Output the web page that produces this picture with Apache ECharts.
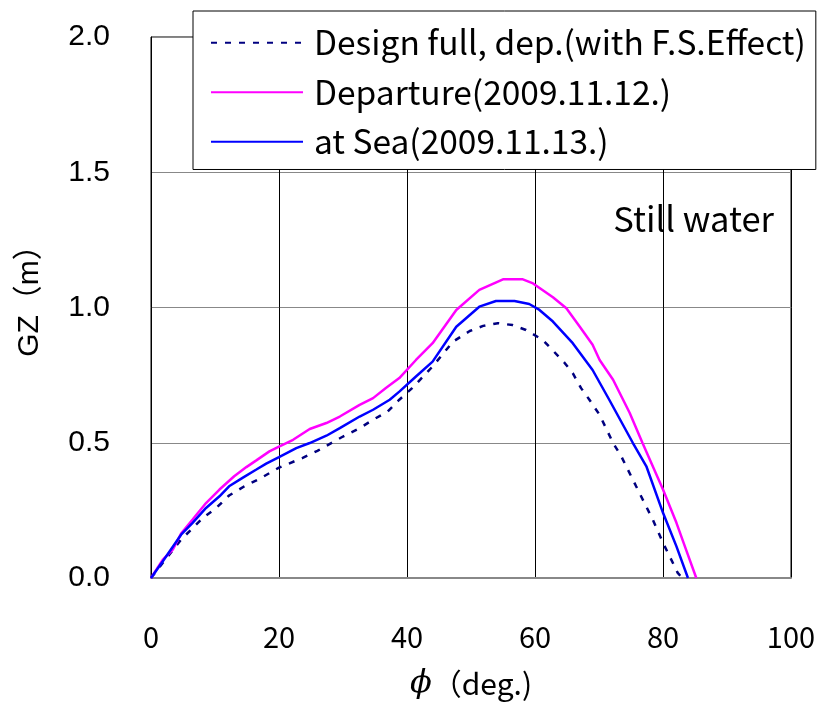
<!DOCTYPE html>
<html>
<head>
<meta charset="utf-8">
<script src="https://cdn.jsdelivr.net/npm/echarts@6/dist/echarts.min.js"></script>
<style>html,body{margin:0;padding:0;background:#fff}#c{width:824px;height:705px}</style>
</head>
<body>
<div id="c"></div>
<script>
var xTicks = [0, 20, 40, 60, 80, 100];
var yTicks = [0.0, 0.5, 1.0, 1.5, 2.0];

var designPhi = [0, 1.85, 4.7, 8.1, 10.2, 12.2, 14.6, 16.9, 20.0, 23.7, 26.0, 30.0, 32.6, 34.7, 37.0, 38.8, 40.8, 44.0, 47.2, 49.8, 51.9, 54.2, 56.5, 58.6, 61.2, 62.8, 64.6, 65.9, 67.2, 68.5, 70.1, 72.2, 73.5, 75.8, 78.4, 80.0, 82.3, 83.0];
var designGZ  = [0, 0.056, 0.142, 0.222, 0.259, 0.305, 0.339, 0.366, 0.408, 0.444, 0.470, 0.523, 0.554, 0.585, 0.616, 0.659, 0.702, 0.782, 0.874, 0.913, 0.932, 0.942, 0.935, 0.917, 0.880, 0.841, 0.796, 0.757, 0.702, 0.659, 0.603, 0.499, 0.449, 0.339, 0.216, 0.130, 0.019, 0];

var depPhi = [0, 1.85, 3.4, 4.7, 6.5, 8.6, 10.7, 13.0, 14.9, 16.4, 18.5, 20.0, 22.2, 24.8, 27.4, 29.5, 32.6, 34.7, 36.7, 38.8, 41.4, 44.0, 47.7, 51.3, 55.0, 58.1, 59.7, 62.8, 64.9, 67.0, 69.0, 70.1, 72.2, 74.8, 76.8, 80.0, 82.1, 83.6, 85.2];
var depGZ  = [0, 0.068, 0.105, 0.164, 0.216, 0.277, 0.327, 0.376, 0.410, 0.434, 0.468, 0.486, 0.511, 0.551, 0.573, 0.597, 0.640, 0.665, 0.702, 0.739, 0.806, 0.868, 0.991, 1.065, 1.104, 1.104, 1.089, 1.038, 0.997, 0.929, 0.862, 0.806, 0.733, 0.610, 0.499, 0.327, 0.204, 0.105, 0];

var seaPhi = [0, 1.85, 4.7, 6.5, 8.6, 10.7, 12.2, 14.3, 16.4, 18.0, 20.0, 22.7, 24.8, 27.4, 29.5, 32.6, 34.7, 37.3, 38.8, 41.4, 44.0, 47.7, 51.3, 53.9, 56.8, 59.1, 60.7, 62.8, 65.9, 69.0, 71.6, 75.3, 77.4, 80.0, 82.1, 83.9];
var seaGZ  = [0, 0.062, 0.160, 0.204, 0.259, 0.302, 0.339, 0.370, 0.400, 0.423, 0.447, 0.480, 0.499, 0.526, 0.554, 0.597, 0.622, 0.659, 0.689, 0.745, 0.800, 0.929, 1.003, 1.024, 1.024, 1.013, 0.991, 0.948, 0.868, 0.769, 0.659, 0.499, 0.413, 0.241, 0.117, 0];

var seriesNames = ['Design full, dep.(with F.S.Effect)', 'Departure(2009.11.12.)', 'at Sea(2009.11.13.)'];

function pairs(xs, ys) { return xs.map(function (x, i) { return [x, ys[i]]; }); }

var chart = echarts.init(document.getElementById('c'), null, { renderer: 'canvas' });
var jp = "'Noto Sans CJK JP', sans-serif";
var lib = "'Liberation Sans', 'Noto Sans CJK JP', sans-serif";
chart.setOption({
  animation: false,
  backgroundColor: '#fff',
  grid: { left: 151, right: 33, top: 37, bottom: 127, show: true, borderColor: '#000', borderWidth: 1, backgroundColor: 'transparent' },
  title: {
    text: 'Still water', right: 50, top: 200,
    textStyle: { fontFamily: jp, fontSize: 34.5, lineHeight: 38, fontWeight: 'normal', color: '#000' },
    padding: 0
  },
  legend: {
    orient: 'vertical', left: 193, top: 11,
    backgroundColor: '#fff', borderColor: '#000', borderWidth: 1,
    padding: [15, 10, 11, 17],
    itemGap: 16, itemWidth: 92, itemHeight: 12,
    itemStyle: { opacity: 0 },
    textStyle: { fontFamily: jp, fontSize: 33.5, lineHeight: 33, color: '#000', padding: [0, 0, 0, 6] },
    data: seriesNames
  },
  xAxis: {
    type: 'value', min: 0, max: 100, interval: 20,
    name: '{p|ϕ}（deg.)', nameLocation: 'middle', nameGap: 90,
    nameTextStyle: { fontFamily: jp, fontSize: 30, color: '#000',
      rich: { p: { fontFamily: "'DejaVu Serif', serif", fontStyle: 'italic', fontSize: 32, color: '#000' } } },
    axisLine: { show: true, lineStyle: { color: '#888', width: 2 } },
    axisTick: { show: false },
    axisLabel: { margin: 44, fontFamily: jp, fontSize: 29, color: '#000',
      formatter: function (v) { return xTicks.indexOf(v) >= 0 ? String(v) : ''; } },
    splitLine: { show: true, lineStyle: { color: '#000', width: 1 } }
  },
  yAxis: {
    type: 'value', min: 0, max: 2, interval: 0.5,
    name: 'GZ（m）', nameLocation: 'middle', nameGap: 106,
    nameTextStyle: { fontFamily: lib, fontSize: 30, color: '#000', padding: [0, 0, 0, 28] },
    axisLine: { show: true, lineStyle: { color: '#000', width: 1 } },
    axisTick: { show: false },
    axisLabel: { margin: 41, fontFamily: "'Liberation Sans', Arial, sans-serif", fontSize: 30, color: '#000',
      formatter: function (v) { var i = yTicks.indexOf(v); return i >= 0 ? yTicks[i].toFixed(1) : ''; } },
    splitLine: { show: true, lineStyle: { color: '#888', width: 1 } }
  },
  series: [
    { name: seriesNames[0], type: 'line', data: pairs(designPhi, designGZ), showSymbol: false, symbol: 'none', smooth: false,
      lineStyle: { color: '#000080', width: 2.5, type: [6, 8] }, itemStyle: { color: '#000080' }, z: 3 },
    { name: seriesNames[1], type: 'line', data: pairs(depPhi, depGZ), showSymbol: false, symbol: 'none',
      lineStyle: { color: '#ff00ff', width: 2.5 }, itemStyle: { color: '#ff00ff' }, z: 4 },
    { name: seriesNames[2], type: 'line', data: pairs(seaPhi, seaGZ), showSymbol: false, symbol: 'none',
      lineStyle: { color: '#0000ff', width: 2.5 }, itemStyle: { color: '#0000ff' }, z: 5 }
  ]
});
</script>
</body>
</html>
